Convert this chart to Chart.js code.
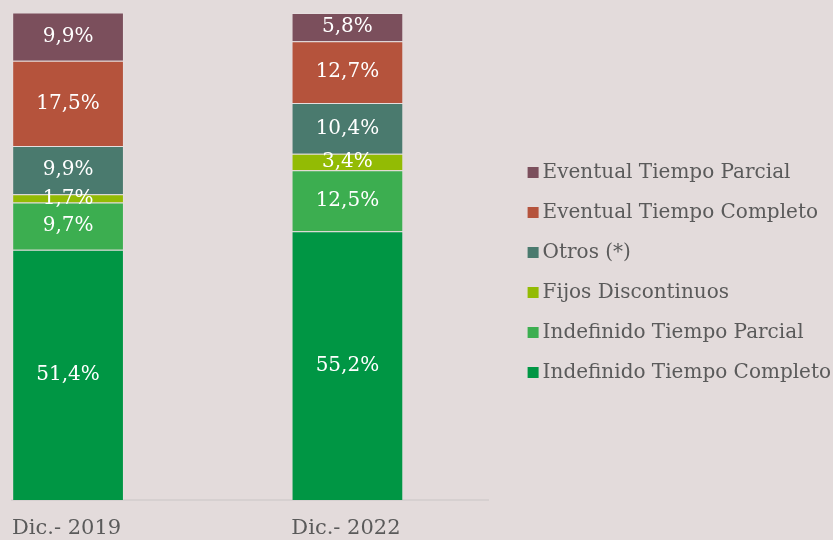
<!DOCTYPE html>
<html>
<head>
<meta charset="utf-8">
<script src="https://cdn.jsdelivr.net/npm/chart.js@4.4.1/dist/chart.umd.min.js"></script>
<style>
  html, body { margin: 0; padding: 0; background: #e3dbdb; }
  #wrap { width: 833px; height: 540px; }
</style>
</head>
<body>
<div id="wrap"><canvas id="myChart"></canvas></div>
<script>
const categories = ["Dic.- 2019", "Dic.- 2022"];
const seriesNames = ["Indefinido Tiempo Completo", "Indefinido Tiempo Parcial", "Fijos Discontinuos", "Otros (*)", "Eventual Tiempo Completo", "Eventual Tiempo Parcial"];
const indefCompleto = [51.4, 55.2];
const indefParcial = [9.7, 12.5];
const fijosDisc = [1.7, 3.4];
const otros = [9.9, 10.4];
const eventCompleto = [17.5, 12.7];
const eventParcial = [9.9, 5.8];
const colors = ["#009644", "#3cae50", "#93bb04", "#4a7a6e", "#b5533c", "#7b4f5c"];

const allValues = [indefCompleto, indefParcial, fijosDisc, otros, eventCompleto, eventParcial];
const fmt = v => v.toFixed(1).replace(".", ",") + "%";

// value labels inside each segment
const labelPlugin = {
    id: "segLabels",
    afterDatasetsDraw(chart) {
        const ctx = chart.ctx;
        ctx.save();
        ctx.fillStyle = "#ffffff";
        ctx.font = "20px 'DejaVu Serif'";
        ctx.textAlign = "center";
        ctx.textBaseline = "middle";
        chart.data.datasets.forEach((ds, i) => {
            chart.getDatasetMeta(i).data.forEach((el, j) => {
                ctx.fillText(fmt(ds.data[j].y), el.x, (el.y + el.base) / 2);
            });
        });
        ctx.restore();
    }
};

// small legend squares drawn close to the text, legend nudged up a bit
const legendBoxes = {
    id: "legendBoxes",
    afterLayout(chart) {
        chart.legend.top -= 4;
        chart.legend.bottom -= 4;
    },
    afterDraw(chart) {
        const lg = chart.legend;
        const ctx = chart.ctx;
        ctx.save();
        lg.legendItems.forEach((item, i) => {
            const hb = lg.legendHitBoxes[i];
            ctx.fillStyle = item.realColor;
            ctx.fillRect(hb.left + 19, hb.top + hb.height / 2 - 5.5, 11, 11);
        });
        ctx.restore();
    }
};

new Chart(document.getElementById("myChart"), {
    type: "bar",
    data: {
        datasets: seriesNames.map((name, i) => ({
            label: name,
            data: allValues[i].map((v, j) => ({ x: j, y: v })),
            backgroundColor: colors[i],
            borderColor: "rgba(255,255,255,0.12)",
            borderWidth: 1,
            barPercentage: 0.4,
            categoryPercentage: 1
        }))
    },
    options: {
        responsive: true,
        maintainAspectRatio: false,
        animation: false,
        layout: { padding: { left: 12, top: 13, right: -8, bottom: 0 } },
        plugins: {
            tooltip: { enabled: false },
            legend: {
                position: "right",
                reverse: true,
                labels: {
                    boxWidth: 24,
                    boxHeight: 11,
                    padding: 20,
                    color: "#5a5a5a",
                    font: { family: "'DejaVu Serif'", size: 20 },
                    generateLabels: chart => Chart.defaults.plugins.legend.labels.generateLabels(chart).map(it => ({
                        ...it,
                        realColor: it.fillStyle,
                        fillStyle: "rgba(0,0,0,0)",
                        strokeStyle: "rgba(0,0,0,0)",
                        lineWidth: 0
                    }))
                }
            }
        },
        scales: {
            x: {
                type: "linear",
                stacked: true,
                offset: false,
                min: -0.2007,
                max: 1.5054,
                afterBuildTicks: s => { s.ticks = [{ value: -0.2007 }, { value: 0.7993 }]; },
                afterFit: s => { s.height = 40; s.paddingLeft = 0; s.paddingRight = 0; },
                grid: { display: false, offset: false, drawTicks: false },
                border: { display: true, color: "#d6d0d0", width: 2 },
                ticks: {
                    align: "start",
                    color: "#5a5a5a",
                    font: { family: "'DejaVu Serif'", size: 21 },
                    padding: 16,
                    maxRotation: 0,
                    callback: (v, i) => categories[i]
                }
            },
            y: {
                stacked: true,
                display: false,
                min: 0,
                max: 100
            }
        }
    },
    plugins: [labelPlugin, legendBoxes]
});
</script>
</body>
</html>
